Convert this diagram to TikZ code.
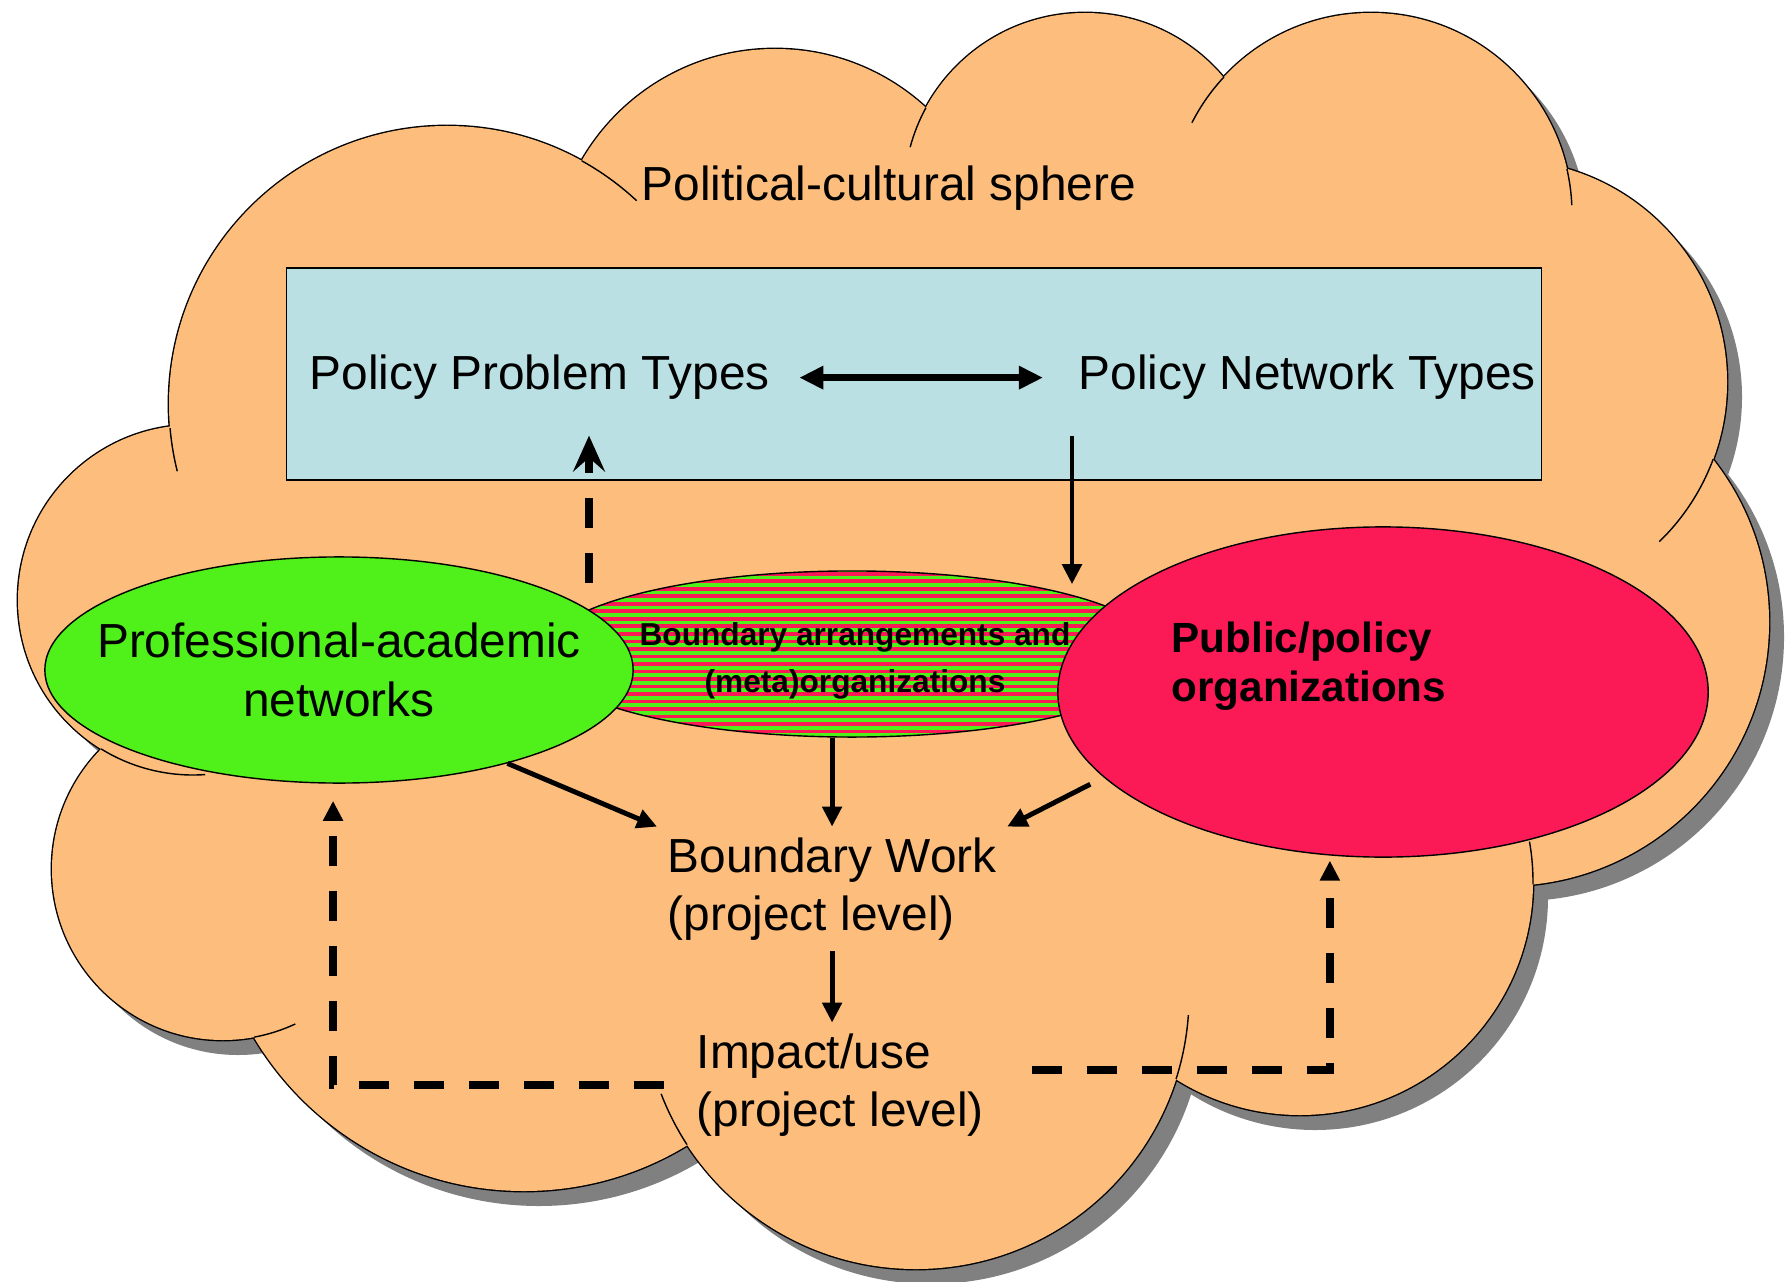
\documentclass[tikz,border=0pt]{standalone}
\usepackage{fontspec}
\setmainfont{Liberation Sans}
\usetikzlibrary{arrows.meta, shapes.geometric}

\definecolor{cloudfill}{RGB}{253,190,125}
\definecolor{boxfill}{RGB}{187,224,227}
\definecolor{netgreen}{RGB}{80,240,26}
\definecolor{orgred}{RGB}{252,26,86}
\definecolor{shadowgray}{RGB}{128,128,128}

% bumps of the cloud: centre x / centre y / radius
\newcommand{\cloudbumps}{447/877/278, 775/1009/223, 1085/1087/181, 1371/1067/201,
  1505/899/222, 1505/659/264, 1300/399/233, 916/285/273, 524/404/314,
  223/412/171, 193/681/175}
% core polygon through the bump centres (closes the hole in the middle)
\newcommand{\cloudcore}{(447,877) -- (775,1009) -- (1085,1087) -- (1371,1067)
  -- (1505,899) -- (1505,659) -- (1300,399) -- (916,285) -- (524,404)
  -- (223,412) -- (193,681) -- cycle}

\begin{document}
\begin{tikzpicture}[x=0.01cm, y=0.01cm,
  lbl/.style={font=\fontsize{13.6}{16.7}\selectfont, inner sep=0pt},
  blob/.style={ellipse, draw, line width=0.4pt, inner sep=0pt},
  arr/.style={line width=1.4pt, -{Triangle[length=0.2cm, width=0.19cm]}},
  dblarr/.style={line width=1.8pt, {Triangle[length=0.24cm, width=0.22cm]}-{Triangle[length=0.24cm, width=0.22cm]}},
  dasharr/.style={arr, line width=2.1pt, dash pattern=on 0.3cm off 0.25cm}]

  \useasboundingbox (0,0) rectangle (1792,1281);

  % Cloud: shadow first, then outline and fill of the bumps
  \fill[shadowgray, shift={(15,-15)}] \cloudcore;
  \foreach \cx/\cy/\r in \cloudbumps
    \fill[shadowgray] (\cx+15,\cy-15) circle[radius=\r];
  \foreach \cx/\cy/\r in \cloudbumps
    \draw[line width=0.8pt] (\cx,\cy) circle[radius=\r];
  \fill[cloudfill] \cloudcore;
  \foreach \cx/\cy/\r in \cloudbumps
    \fill[cloudfill] (\cx,\cy) circle[radius=\r];

  % Short inner arcs where two bumps meet
  \foreach \cx/\cy/\r/\a/\b in {447/877/278/185/194, 447/877/278/61/47,
      1085/1087/181/151.5/165, 1371/1067/201/137/153, 1371/1067/201/13/2.5,
      1505/899/222/-20.4/-46, 1300/399/233/-0.6/10, 916/285/273/-17.7/-4,
      916/285/273/213/201, 223/412/171/-79.5/-65, 193/681/175/238.3/274}
    \draw[line width=0.4pt] (\cx,\cy) ++(\a:\r) arc[start angle=\a, end angle=\b, radius=\r];

  % Title of the sphere
  \node[lbl, anchor=base west] (sphere) at (641,1080) {Political-cultural sphere};

  % Box with the two types
  \node[draw, fill=boxfill, line width=0.4pt, minimum width=12.54cm,
        minimum height=2.12cm, inner sep=0pt] (types) at (914,907) {};
  \node[lbl, anchor=base west] (ppt) at (309,891) {Policy Problem Types};
  \node[lbl, anchor=base west] (pnt) at (1078,891) {Policy Network Types};
  \draw[dblarr, shorten <=0.29cm, shorten >=0.35cm] (ppt.east) -- (pnt.west);

  % The three organisational ellipses
  \node[blob, minimum width=6.2cm, minimum height=1.66cm,
        path picture={
          \fill[orgred] (path picture bounding box.south west)
            rectangle (path picture bounding box.north east);
          \foreach \k in {0,...,22}
            \fill[netgreen] ([yshift=\k*0.075cm]path picture bounding box.south west)
              rectangle ([yshift=\k*0.075cm+0.0375cm]path picture bounding box.south east);
        }] (bound) at (852,627) {};
  \node[blob, fill=netgreen, minimum width=5.88cm, minimum height=2.26cm] (prof) at (339,611) {};
  \node[blob, fill=orgred, minimum width=6.5cm, minimum height=3.3cm] (pub) at (1383,589) {};

  \node[lbl, align=center] (proftext) at (prof) {Professional-academic\\networks};
  \node[font=\fontsize{9}{13.3}\selectfont\bfseries, inner sep=0pt, align=center]
    (boundtext) at (855,620) {Boundary arrangements and\\(meta)organizations};
  \node[font=\fontsize{12}{13.75}\selectfont\bfseries, inner sep=0pt, align=left,
    anchor=west] (pubtext) at (1171,615) {Public/policy\\organizations};

  % Project level
  \node[lbl, inner sep=0.1cm, align=left, anchor=west] (bw) at (657,392) {Boundary Work\\(project level)};
  \node[lbl, inner sep=0.1cm, align=left, anchor=west] (impact) at (686,196) {Impact/use\\(project level)};

  % Links into and out of the box
  \coordinate (probfoot) at (589,698);
  \draw[dasharr, -{Stealth[length=0.36cm, width=0.32cm, inset=0.14cm]}]
    (probfoot) -- ([yshift=-0.35cm]probfoot |- ppt.south);
  \draw[arr] ([shift={(-0.06cm,-0.35cm)}]pnt.south west)
    -- ([shift={(-0.06cm,-0.14cm)}]pnt.south west |- bound.north);

  % Links down to boundary work and impact
  \draw[arr] (prof.-29) -- (bw.north west);
  \draw[arr] (bw.north |- bound.south) -- (bw.north);
  \draw[arr, shorten <=0.15cm] (pub.197) -- (bw.north east);
  \draw[arr] (bw.south) -- (bw.south |- impact.north);

  % Feedback from impact
  \draw[dasharr, shorten >=0.17cm] ([xshift=-0.22cm]impact.west) -| (prof.-93);
  \draw[dasharr, shorten >=0.05cm] ([shift={(0.37cm,0.15cm)}]impact.east) -| (pub.-108);
\end{tikzpicture}
\end{document}
